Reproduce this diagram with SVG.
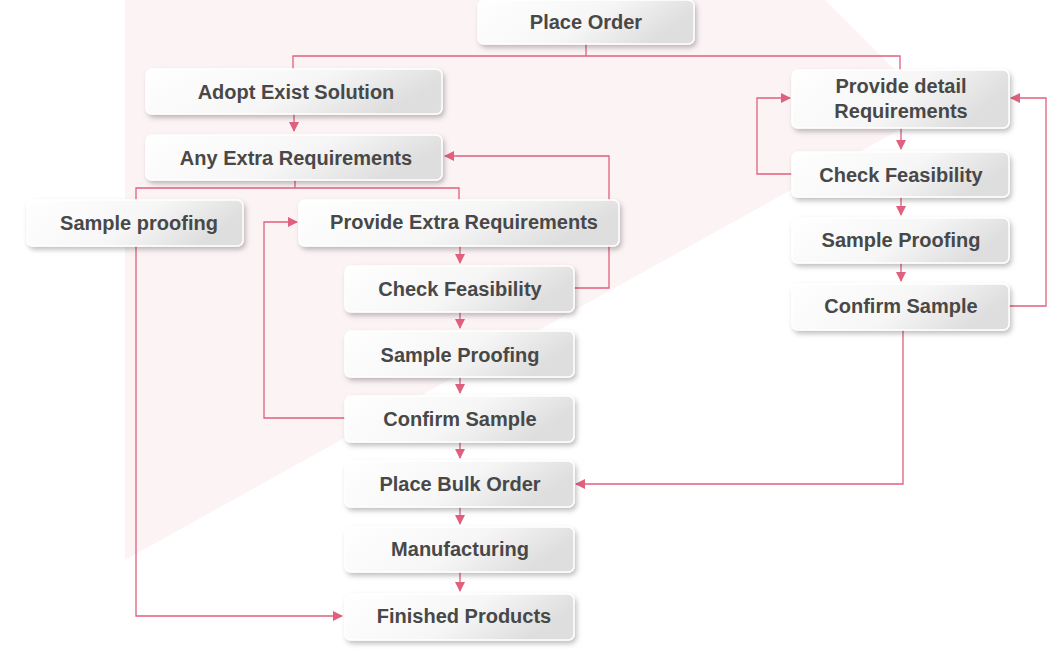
<svg xmlns="http://www.w3.org/2000/svg" width="1063" height="652" viewBox="0 0 1063 652">
<style>
.n rect{fill:url(#g);stroke:#ffffff;stroke-width:1.5;filter:url(#s)}
.n text{font-family:"Liberation Sans",Arial,sans-serif;font-weight:bold;font-size:20px;fill:#484848;text-anchor:middle;dominant-baseline:central}
.c path{fill:none;stroke:#e0607e;stroke-width:1.3}
.a{marker-end:url(#m)}
</style>
<defs>
<linearGradient id="g" x1="0" y1="0" x2="1" y2="0.3"><stop offset="0" stop-color="#ffffff"/><stop offset="0.6" stop-color="#f6f6f6"/><stop offset="1" stop-color="#dedede"/></linearGradient>
<filter id="s" x="-10%" y="-30%" width="125%" height="170%"><feDropShadow dx="2" dy="3" stdDeviation="2.5" flood-color="#000" flood-opacity="0.25"/></filter>
<marker id="m" viewBox="0 0 10 10" refX="9" refY="5" markerWidth="10" markerHeight="10" markerUnits="userSpaceOnUse" orient="auto"><path d="M0,0L10,5L0,10z" fill="#e0607e"/></marker>
</defs>
<rect width="1063" height="652" fill="#ffffff"/>
<polygon points="125,0 825,0 935,110 125,560" fill="#fcf3f5"/>
<g class="c">
<path d="M586,44V56M293,69V56H900V70"/>
<path class="a" d="M294,114V131"/>
<path d="M295,180V188M136,200V188H459V200"/>
<path class="a" d="M460,246V263"/>
<path class="a" d="M460,312V328"/>
<path class="a" d="M460,377V393"/>
<path class="a" d="M460,442V458"/>
<path class="a" d="M460,507V524"/>
<path class="a" d="M460,572V591"/>
<path class="a" d="M574,288H609V156H445"/>
<path class="a" d="M345,418H264V222H297"/>
<path class="a" d="M136,246V616H342"/>
<path class="a" d="M901,128V149"/>
<path class="a" d="M901,197V215"/>
<path class="a" d="M901,263V281"/>
<path class="a" d="M792,174H757V98H790"/>
<path class="a" d="M1009,306H1046V98H1011"/>
<path class="a" d="M903,330V484H576"/>
</g>
<g id="n1" class="n"><rect x="478" y="0" width="216" height="44" rx="6"/><text x="586" y="22">Place Order</text></g>
<g id="n2" class="n"><rect x="146" y="69" width="296" height="45" rx="6"/><text x="296" y="92">Adopt Exist Solution</text></g>
<g id="n3" class="n"><rect x="146" y="135" width="296" height="45" rx="6"/><text x="296" y="158">Any Extra Requirements</text></g>
<g id="n4" class="n"><rect x="27" y="200" width="216" height="46" rx="6"/><text x="139" y="223">Sample proofing</text></g>
<g id="n5" class="n"><rect x="299" y="200" width="320" height="46" rx="6"/><text x="464" y="222">Provide Extra Requirements</text></g>
<g id="n6" class="n"><rect x="345" y="266" width="229" height="46" rx="6"/><text x="460" y="289">Check Feasibility</text></g>
<g id="n7" class="n"><rect x="345" y="331" width="229" height="46" rx="6"/><text x="460" y="355">Sample Proofing</text></g>
<g id="n8" class="n"><rect x="345" y="396" width="229" height="46" rx="6"/><text x="460" y="419">Confirm Sample</text></g>
<g id="n9" class="n"><rect x="345" y="461" width="229" height="46" rx="6"/><text x="460" y="484">Place Bulk Order</text></g>
<g id="n10" class="n"><rect x="345" y="527" width="229" height="45" rx="6"/><text x="460" y="549">Manufacturing</text></g>
<g id="n11" class="n"><rect x="345" y="594" width="229" height="46" rx="6"/><text x="464" y="616">Finished Products</text></g>
<g id="n12" class="n"><rect x="792" y="70" width="217" height="58" rx="6"/><text x="901" y="86">Provide detail</text><text x="901" y="111">Requirements</text></g>
<g id="n13" class="n"><rect x="792" y="152" width="217" height="45" rx="6"/><text x="901" y="175">Check Feasibility</text></g>
<g id="n14" class="n"><rect x="792" y="218" width="217" height="45" rx="6"/><text x="901" y="240">Sample Proofing</text></g>
<g id="n15" class="n"><rect x="792" y="284" width="217" height="46" rx="6"/><text x="901" y="306">Confirm Sample</text></g>
</svg>
